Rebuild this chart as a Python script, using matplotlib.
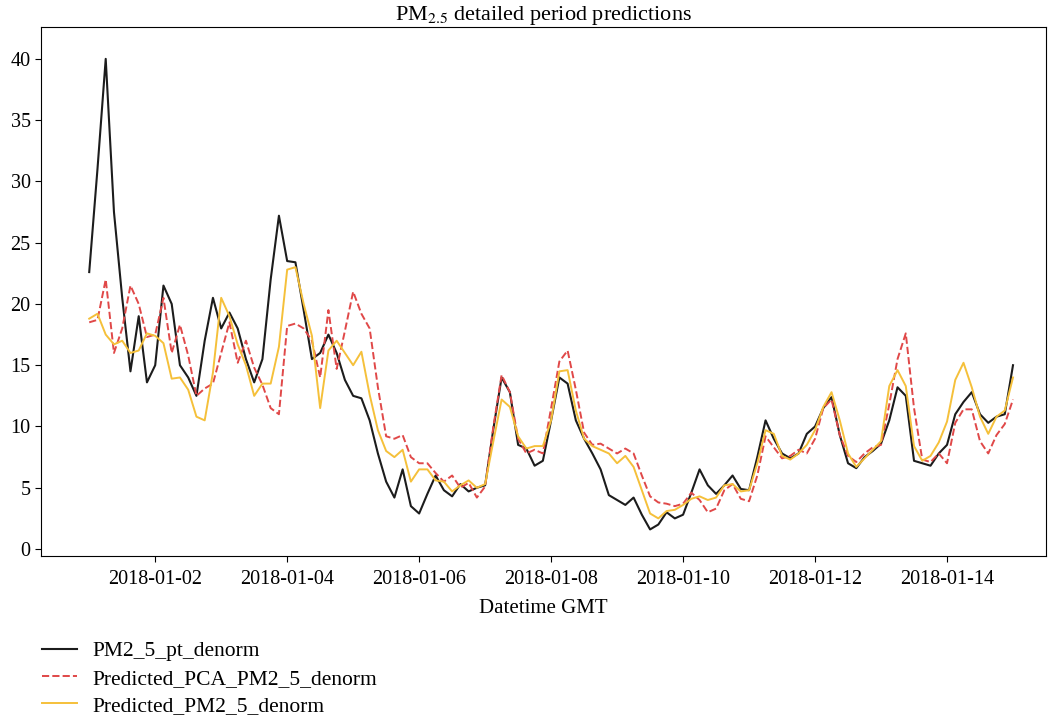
import numpy as np
import pandas as pd
import matplotlib
matplotlib.use('Agg')
import matplotlib.pyplot as plt
import matplotlib.dates as mdates

# values, one every 3 hours from 2018-01-01 00:00
start = '2018-01-01 00:00'
step = '3h'

pm25_pt = [22.6, 31.0, 40.0, 27.5, 20.5, 14.5, 19.0, 13.6, 15.0, 21.5, 20.0, 15.0,
           14.0, 12.5, 17.0, 20.5, 18.0, 19.3, 18.0, 15.5, 13.6, 15.5, 22.0, 27.2,
           23.5, 23.4, 19.5, 15.5, 16.0, 17.5, 16.0, 13.8, 12.5, 12.3, 10.5, 7.8,
           5.5, 4.2, 6.5, 3.5, 2.9, 4.5, 6.0, 4.8, 4.3, 5.3, 4.7, 5.0,
           5.2, 9.8, 14.0, 12.8, 8.5, 8.2, 6.8, 7.2, 10.5, 14.0, 13.5, 10.5,
           9.0, 7.8, 6.5, 4.4, 4.0, 3.6, 4.2, 2.8, 1.6, 2.0, 3.0, 2.5,
           2.8, 4.6, 6.5, 5.2, 4.5, 5.2, 6.0, 4.9, 4.8, 7.5, 10.5, 9.0,
           7.8, 7.4, 7.8, 9.4, 10.0, 11.5, 12.4, 9.3, 7.0, 6.6, 7.5, 8.0,
           8.6, 10.5, 13.2, 12.5, 7.2, 7.0, 6.8, 7.8, 8.5, 11.0, 12.0, 12.8,
           11.0, 10.3, 10.8, 11.0, 15.0]

pred_pca = [18.5, 18.7, 22.0, 16.0, 18.0, 21.5, 20.0, 17.3, 17.5, 20.5, 16.0, 18.3,
            15.8, 12.5, 13.1, 13.5, 16.0, 18.5, 15.2, 17.0, 14.8, 13.4, 11.5, 11.0,
            18.2, 18.4, 18.0, 17.0, 14.0, 19.5, 14.7, 17.8, 21.0, 19.2, 18.0, 13.2,
            9.2, 9.0, 9.3, 7.5, 7.0, 7.0, 6.2, 5.5, 6.0, 5.0, 5.4, 4.2,
            5.1, 10.0, 14.2, 12.8, 9.0, 7.8, 8.1, 7.8, 11.5, 15.3, 16.2, 13.0,
            9.5, 8.5, 8.6, 8.2, 7.8, 8.2, 7.8, 6.0, 4.3, 3.8, 3.7, 3.5,
            3.7, 4.6, 4.0, 3.0, 3.3, 4.8, 5.3, 4.1, 3.9, 6.0, 9.2, 8.3,
            7.4, 7.6, 8.1, 7.8, 9.0, 11.5, 12.2, 9.3, 7.6, 7.1, 7.8, 8.3,
            8.5, 11.8, 15.5, 17.6, 11.5, 7.3, 7.1, 7.8, 7.0, 10.3, 11.4, 11.4,
            8.8, 7.8, 9.3, 10.2, 12.2]

pred_plain = [18.8, 19.2, 17.5, 16.7, 17.0, 16.0, 16.2, 17.6, 17.4, 16.8, 13.9, 14.0,
              13.0, 10.8, 10.5, 14.4, 20.5, 19.0, 16.7, 15.0, 12.5, 13.5, 13.5, 16.5,
              22.8, 23.0, 20.0, 17.4, 11.5, 16.2, 17.0, 16.0, 15.0, 16.1, 12.6, 9.7,
              8.0, 7.5, 8.1, 5.5, 6.5, 6.5, 5.6, 5.5, 4.7, 5.2, 5.6, 5.0,
              5.3, 8.8, 12.2, 11.6, 9.2, 8.2, 8.4, 8.4, 10.5, 14.5, 14.6, 11.3,
              9.0, 8.4, 8.1, 7.8, 7.0, 7.6, 6.7, 4.8, 2.9, 2.5, 3.1, 3.2,
              3.6, 4.1, 4.3, 4.0, 4.2, 5.2, 5.3, 4.7, 4.8, 7.0, 9.7, 9.4,
              7.6, 7.3, 7.8, 8.5, 9.7, 11.6, 12.8, 10.5, 7.8, 6.7, 7.4, 8.1,
              8.8, 13.3, 14.6, 13.3, 8.4, 7.2, 7.6, 8.7, 10.4, 13.8, 15.2, 13.2,
              10.8, 9.4, 10.8, 11.3, 14.0]

labels = ['PM2_5_pt_denorm', 'Predicted_PCA_PM2_5_denorm', 'Predicted_PM2_5_denorm']

plt.rcParams['font.family'] = ['Liberation Serif', 'DejaVu Serif']
plt.rcParams['mathtext.fontset'] = 'stix'

times = pd.date_range(start, periods=len(pm25_pt), freq=step)

fig = plt.figure(figsize=(10.54, 7.18), dpi=100)
ax = fig.add_axes([0.039, 0.2256, 0.9534, 0.7368])

ax.plot(times, pm25_pt, color='#1c1c1c', lw=1.5, label=labels[0])
ax.plot(times, pred_pca, color='#e04848', lw=1.4, ls='--', label=labels[1])
ax.plot(times, pred_plain, color='#f5c03a', lw=1.4, label=labels[2])

t0 = pd.Timestamp(start)
ax.set_xlim(t0 - pd.Timedelta(hours=17.5), t0 + pd.Timedelta(days=14.5))
ax.set_ylim(-0.57, 42.6)

ax.xaxis.set_major_locator(mdates.DayLocator(bymonthday=[2, 4, 6, 8, 10, 12, 14]))
ax.xaxis.set_major_formatter(mdates.DateFormatter('%Y-%m-%d'))
ax.set_yticks([0, 5, 10, 15, 20, 25, 30, 35, 40])
ax.tick_params(labelsize=14.5, length=4)
ax.tick_params(axis='x', pad=6)

ax.set_xlabel('Datetime GMT', fontsize=15, labelpad=7)
ax.set_title('PM$_{2.5}$ detailed period predictions', fontsize=16, pad=4)

fig.legend(loc='upper left', bbox_to_anchor=(0.0317, 0.119), frameon=False,
           fontsize=15.5, handlelength=1.63, handletextpad=0.7, labelspacing=0.34,
           borderaxespad=0)

fig.savefig('out.png', dpi=100)
